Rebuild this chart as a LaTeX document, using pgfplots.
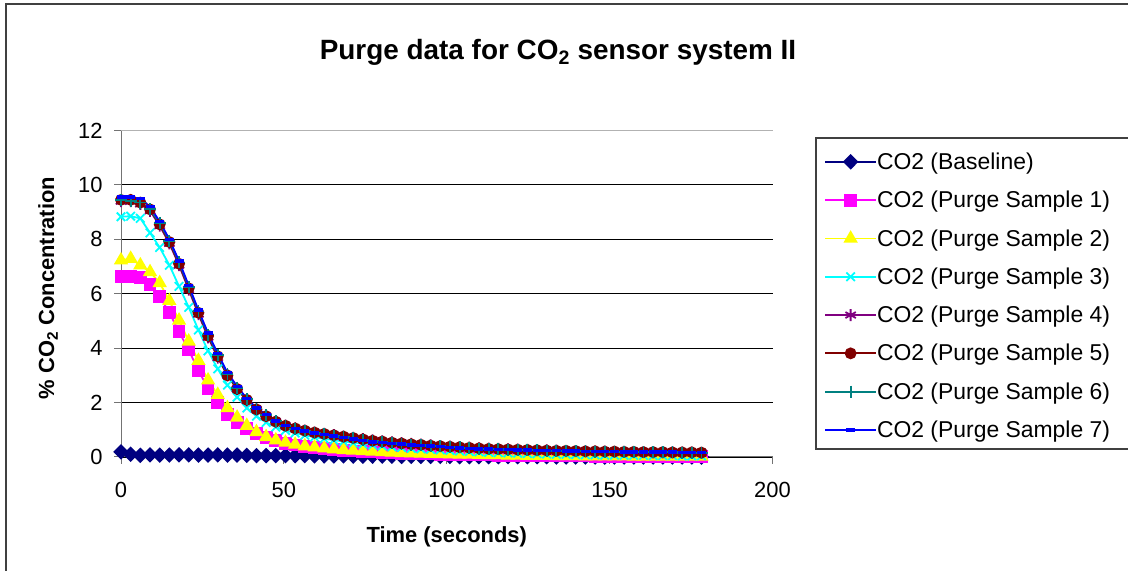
\documentclass[border=0pt]{standalone}
\usepackage{fontspec}
\setmainfont{Liberation Sans}
\usepackage{pgfplots}
\usepackage{pgfplotstable}
\pgfplotsset{compat=1.18}
\definecolor{cnavy}{HTML}{000080}
\definecolor{cmag}{HTML}{FF00FF}
\definecolor{cyel}{HTML}{FFFF00}
\definecolor{ccyan}{HTML}{00FFFF}
\definecolor{cpurp}{HTML}{800080}
\definecolor{cdred}{HTML}{800000}
\definecolor{cteal}{HTML}{008080}
\definecolor{cblue}{HTML}{0000FF}
\pgfplotstableread{
t b s1 s2 s3 s4 s5 s6 s7
0 0.19 6.63 7.23 8.83 9.40 9.45 9.45 9.55
2.97 0.10 6.63 7.29 8.85 9.40 9.45 9.40 9.55
5.94 0.06 6.60 7.05 8.77 9.30 9.35 9.35 9.50
8.91 0.08 6.33 6.80 8.24 9.05 9.10 9.10 9.20
11.88 0.07 5.90 6.40 7.70 8.50 8.55 8.60 8.65
14.85 0.07 5.30 5.74 7.05 7.85 7.90 7.95 8.00
17.82 0.08 4.60 5.02 6.27 7.05 7.10 7.15 7.20
20.79 0.08 3.93 4.25 5.50 6.15 6.20 6.25 6.30
23.76 0.07 3.18 3.54 4.67 5.25 5.30 5.35 5.40
26.73 0.07 2.52 2.82 3.90 4.40 4.45 4.50 4.55
29.70 0.08 2.00 2.29 3.24 3.65 3.70 3.75 3.80
32.67 0.07 1.57 1.80 2.64 3.00 3.00 3.05 3.10
35.64 0.07 1.27 1.45 2.20 2.50 2.50 2.55 2.60
38.61 0.06 1.04 1.15 1.80 2.08 2.10 2.12 2.15
41.58 0.05 0.86 0.92 1.50 1.75 1.75 1.78 1.80
44.55 0.05 0.72 0.74 1.27 1.50 1.50 1.53 1.57
47.52 0.05 0.60 0.62 1.10 1.30 1.30 1.32 1.33
50.49 0.05 0.51 0.53 0.98 1.15 1.15 1.15 1.15
53.46 0.05 0.44 0.46 0.88 1.05 1.05 1.04 1.04
56.43 0.05 0.38 0.40 0.80 0.97 0.97 0.95 0.95
59.40 0.04 0.34 0.36 0.73 0.90 0.90 0.88 0.88
62.37 0.04 0.30 0.32 0.67 0.85 0.85 0.83 0.83
65.34 0.04 0.27 0.29 0.62 0.80 0.80 0.78 0.78
68.31 0.04 0.24 0.26 0.57 0.75 0.75 0.73 0.72
71.28 0.03 0.22 0.24 0.52 0.70 0.70 0.68 0.66
74.25 0.03 0.20 0.22 0.48 0.66 0.65 0.63 0.60
77.22 0.03 0.18 0.20 0.44 0.61 0.60 0.58 0.56
80.19 0.03 0.16 0.18 0.41 0.57 0.57 0.55 0.53
83.16 0.03 0.15 0.17 0.38 0.54 0.53 0.51 0.50
86.13 0.02 0.14 0.15 0.35 0.51 0.50 0.48 0.47
89.10 0.02 0.13 0.14 0.32 0.48 0.47 0.45 0.45
92.07 0.02 0.12 0.13 0.30 0.45 0.45 0.43 0.42
95.04 0.02 0.11 0.12 0.28 0.43 0.42 0.41 0.40
98.01 0.02 0.10 0.11 0.26 0.40 0.40 0.39 0.38
100.98 0.02 0.09 0.10 0.24 0.38 0.38 0.37 0.35
103.95 0.01 0.09 0.09 0.22 0.36 0.36 0.35 0.33
106.92 0.01 0.08 0.09 0.20 0.34 0.34 0.33 0.32
109.89 0.01 0.07 0.08 0.19 0.32 0.32 0.31 0.30
112.86 0.01 0.07 0.07 0.17 0.31 0.30 0.30 0.29
115.83 0.01 0.06 0.07 0.16 0.30 0.29 0.28 0.28
118.80 0.01 0.06 0.06 0.15 0.28 0.28 0.27 0.27
121.77 0.01 0.06 0.06 0.14 0.27 0.27 0.26 0.26
124.74 0.01 0.05 0.05 0.13 0.26 0.26 0.25 0.25
127.71 0.01 0.05 0.05 0.12 0.25 0.25 0.24 0.24
130.68 0.01 0.05 0.05 0.11 0.24 0.24 0.23 0.24
133.65 0.00 0.04 0.04 0.10 0.23 0.23 0.23 0.23
136.62 0.00 0.04 0.04 0.10 0.22 0.23 0.22 0.22
139.59 0.00 0.04 0.04 0.09 0.22 0.22 0.21 0.22
142.56 0.00 0.04 0.03 0.08 0.21 0.21 0.21 0.21
145.53 0.00 0.03 0.03 0.08 0.20 0.21 0.20 0.21
148.50 0.00 0.03 0.03 0.07 0.20 0.20 0.20 0.20
151.47 0.00 0.03 0.03 0.07 0.19 0.20 0.19 0.20
154.44 0.00 0.03 0.03 0.06 0.19 0.19 0.19 0.19
157.41 0.00 0.03 0.02 0.06 0.18 0.19 0.18 0.19
160.38 0.00 0.03 0.02 0.06 0.18 0.18 0.18 0.19
163.35 0.00 0.03 0.02 0.05 0.17 0.18 0.17 0.18
166.32 0.00 0.03 0.02 0.05 0.17 0.18 0.17 0.18
169.29 0.00 0.03 0.02 0.05 0.17 0.17 0.17 0.18
172.26 0.00 0.03 0.02 0.04 0.16 0.17 0.16 0.17
175.23 0.00 0.03 0.02 0.04 0.16 0.17 0.16 0.17
178.20 0.00 0.03 0.02 0.04 0.15 0.16 0.16 0.17
}\purgedata
\begin{document}
\begin{tikzpicture}[x=1bp,y=1bp]
\useasboundingbox (0,0) rectangle (1128,571);
\draw[line width=1.5bp, black!75] (6,-20) rectangle (1150,567);
\draw[line width=1.2bp, black!75] (816,122) rectangle (1150,433);
\begin{axis}[
  at={(121bp,114bp)}, anchor=south west,
  scale only axis, width=651.5bp, height=326.5bp,
  xmin=0, xmax=200, ymin=0, ymax=12,
  xtick={0,50,...,200}, ytick={0,2,...,10},
  extra y ticks={12}, extra y tick style={grid style={black!30, line width=0.9bp}},
  axis x line=bottom, axis y line=left,
  axis line style={-, draw=black!55, line width=1bp},
  tick style={draw=black!55, line width=1bp},
  tick align=outside, major tick length=7bp,
  ymajorgrids, grid style={black, line width=0.9bp},
  clip=false,
  /pgf/number format/assume math mode=true,
  tick label style={font=\fontsize{22}{26}\selectfont},
  yticklabel style={xshift=-8bp},
  xticklabel style={yshift=-15bp},
  title={\textbf{Purge data for CO\textsubscript{2} sensor system II}},
  title style={font=\fontsize{28}{33}\selectfont, at={(axis description cs:0.6708,1.222)}, anchor=center},
  xlabel={\textbf{Time (seconds)}},
  xlabel style={font=\fontsize{22}{26}\selectfont, at={(axis description cs:0.5,-0.245)}, anchor=center},
  ylabel={\textbf{\% CO\textsubscript{2} Concentration}},
  ylabel style={font=\fontsize{22}{26}\selectfont, at={(axis description cs:-0.112,0.5176)}, anchor=center},
  legend cell align=left,
  legend image code/.code={\draw[mark repeat=2,mark phase=2] plot coordinates {(0bp,0bp) (25.5bp,0bp) (51bp,0bp)};},
  legend style={at={(axis description cs:1.0668,0.977)}, anchor=north west, draw=none, fill=none,
    inner xsep=8bp, inner ysep=4.5bp, row sep=0pt,
    font=\fontsize{23}{27}\selectfont,
    nodes={inner sep=0pt, minimum height=38.3bp},
    /tikz/column 2/.style={column sep=5bp}},
  every axis plot/.append style={line width=1.8bp},
]
\addplot[cnavy, mark=diamond*, mark size=6.5bp, mark options={xscale=1.33, solid}] table[x=t,y=b] {\purgedata};
\addlegendentry{CO2 (Baseline)}
\addplot[cmag, mark=square*, mark size=5.5bp] table[x=t,y=s1] {\purgedata};
\addlegendentry{CO2 (Purge Sample 1)}
\addplot[cyel, mark=triangle*, mark size=6.5bp] table[x=t,y=s2] {\purgedata};
\addlegendentry{CO2 (Purge Sample 2)}
\addplot[ccyan, mark=x, mark size=6bp] table[x=t,y=s3] {\purgedata};
\addlegendentry{CO2 (Purge Sample 3)}
\addplot[cpurp, mark=asterisk, mark size=6bp] table[x=t,y=s4] {\purgedata};
\addlegendentry{CO2 (Purge Sample 4)}
\addplot[cdred, mark=*, mark size=5bp] table[x=t,y=s5] {\purgedata};
\addlegendentry{CO2 (Purge Sample 5)}
\addplot[cteal, mark=+, mark size=6bp] table[x=t,y=s6] {\purgedata};
\addlegendentry{CO2 (Purge Sample 6)}
\addplot[cblue, mark=-, mark size=4.5bp, mark options={line width=3.5bp}] table[x=t,y=s7] {\purgedata};
\addlegendentry{CO2 (Purge Sample 7)}
\end{axis}
\end{tikzpicture}
\end{document}
